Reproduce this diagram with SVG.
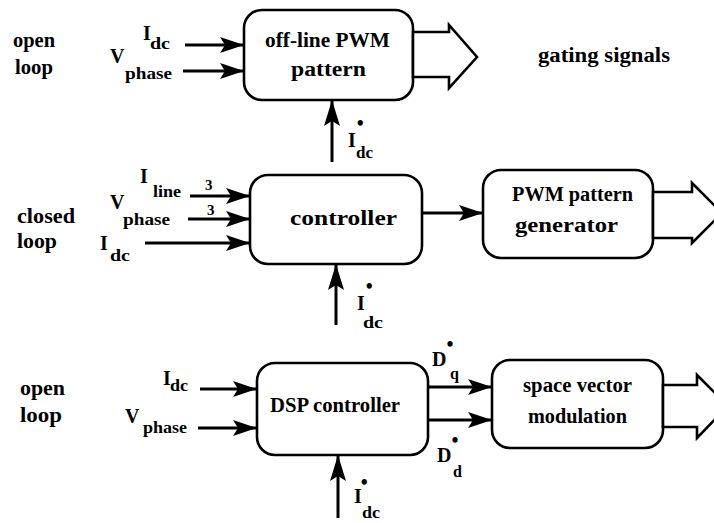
<svg xmlns="http://www.w3.org/2000/svg" width="714" height="523" viewBox="0 0 714 523" font-family="'Liberation Serif', 'Times New Roman', Times, serif">
<style>
text{fill:#000;font-size:20px;font-weight:bold}
.sub{font-size:16px}
.sm{font-size:15px}
.box{fill:#fff;stroke:#000;stroke-width:2.6}
.ln{stroke:#000;stroke-width:3;fill:none;marker-end:url(#ah)}
.up{stroke:#000;stroke-width:3;fill:none;marker-end:url(#ahu)}
.hol{fill:#fff;stroke:#000;stroke-width:2.6;stroke-linejoin:miter}
</style>
<defs>
<marker id="ah" markerUnits="userSpaceOnUse" markerWidth="26" markerHeight="18" refX="24" refY="8" orient="auto" viewBox="0 0 26 18">
<path d="M0,0 L24,8 L0,16 L5,8 z" fill="#000"/>
</marker>
<marker id="ahu" markerUnits="userSpaceOnUse" markerWidth="28" markerHeight="18" refX="26" refY="8" orient="auto" viewBox="0 0 28 18">
<path d="M0,0 L26,8 L0,16 L5,8 z" fill="#000"/>
</marker>
</defs>

<g id="labels">
<text x="13" y="47" textLength="42" lengthAdjust="spacingAndGlyphs">open</text>
<text x="15" y="74" textLength="38" lengthAdjust="spacingAndGlyphs">loop</text>
<text x="17" y="223" textLength="58" lengthAdjust="spacingAndGlyphs">closed</text>
<text x="17" y="248" textLength="40" lengthAdjust="spacingAndGlyphs">loop</text>
<text x="20" y="395" textLength="45" lengthAdjust="spacingAndGlyphs">open</text>
<text x="20" y="422" textLength="42" lengthAdjust="spacingAndGlyphs">loop</text>
<text x="538" y="62" textLength="132" lengthAdjust="spacingAndGlyphs">gating signals</text>
</g>

<g id="n1">
<rect class="box" x="244" y="10" width="169" height="90" rx="18"/>
<text x="265" y="47" textLength="125" lengthAdjust="spacingAndGlyphs">off-line PWM</text>
<text x="291" y="76" textLength="75" lengthAdjust="spacingAndGlyphs">pattern</text>
</g>
<g id="n2">
<rect class="box" x="250" y="175" width="172" height="89" rx="18"/>
<text x="290" y="225" textLength="107" lengthAdjust="spacingAndGlyphs">controller</text>
</g>
<g id="n3">
<rect class="box" x="483" y="170" width="170" height="88" rx="18"/>
<text x="512" y="201" textLength="121" lengthAdjust="spacingAndGlyphs">PWM pattern</text>
<text x="515" y="232" textLength="103" lengthAdjust="spacingAndGlyphs">generator</text>
</g>
<g id="n4">
<rect class="box" x="257" y="363" width="171" height="92" rx="18"/>
<text x="270" y="412" textLength="130" lengthAdjust="spacingAndGlyphs">DSP controller</text>
</g>
<g id="n5">
<rect class="box" x="492" y="360" width="171" height="88" rx="18"/>
<text x="523" y="392" textLength="109" lengthAdjust="spacingAndGlyphs">space vector</text>
<text x="528" y="423" textLength="99" lengthAdjust="spacingAndGlyphs">modulation</text>
</g>

<g id="connectors">
<line class="ln" x1="185" y1="45" x2="244" y2="45"/>
<line class="ln" x1="183" y1="71" x2="244" y2="71"/>
<line class="up" x1="332" y1="162" x2="332" y2="100"/>
<polygon class="hol" points="413,32 449,32 449,25 477,57 449,88 449,77 413,77"/>

<line class="ln" x1="190" y1="196" x2="250" y2="196"/>
<line class="ln" x1="188" y1="219" x2="250" y2="219"/>
<line class="ln" x1="145" y1="243" x2="250" y2="243"/>
<line class="up" x1="336" y1="325" x2="336" y2="264"/>
<line class="ln" x1="422" y1="213" x2="483" y2="213"/>
<polygon class="hol" points="653,192 692,192 692,183 722,213 692,243 692,238 653,238"/>

<line class="ln" x1="200" y1="389" x2="257" y2="389"/>
<line class="ln" x1="198" y1="428" x2="257" y2="428"/>
<line class="up" x1="338" y1="518" x2="338" y2="455"/>
<line class="ln" x1="428" y1="387" x2="492" y2="387"/>
<line class="ln" x1="428" y1="420" x2="492" y2="420"/>
<polygon class="hol" points="663,385 697,385 697,375 728,406 697,438 697,427 663,427"/>
</g>

<g id="signal-labels">
<text x="143" y="40">I</text><text class="sub" x="150" y="49" textLength="20" lengthAdjust="spacingAndGlyphs">dc</text>
<text x="110" y="63">V</text><text class="sub" x="125" y="79" textLength="47" lengthAdjust="spacingAndGlyphs">phase</text>
<text x="348" y="147">I<tspan dx="1" dy="-17">•</tspan></text><text class="sub" x="356" y="158" textLength="17" lengthAdjust="spacingAndGlyphs">dc</text>

<text x="140" y="183">I</text><text class="sub" x="153" y="197" textLength="28" lengthAdjust="spacingAndGlyphs">line</text>
<text class="sm" x="205" y="190">3</text>
<text class="sm" x="207" y="215">3</text>
<text x="110" y="209">V</text><text class="sub" x="123" y="225" textLength="47" lengthAdjust="spacingAndGlyphs">phase</text>
<text x="100" y="250">I</text><text class="sub" x="110" y="261" textLength="20" lengthAdjust="spacingAndGlyphs">dc</text>
<text x="357" y="310">I<tspan dx="1" dy="-17">•</tspan></text><text class="sub" x="363" y="328" textLength="20" lengthAdjust="spacingAndGlyphs">dc</text>

<text x="163" y="385">I</text><text class="sub" x="170" y="391" textLength="18" lengthAdjust="spacingAndGlyphs">dc</text>
<text x="125" y="423">V</text><text class="sub" x="143" y="433" textLength="44" lengthAdjust="spacingAndGlyphs">phase</text>
<text x="354" y="503">I<tspan dx="-1" dy="-14">•</tspan></text><text class="sub" x="362" y="518" textLength="18" lengthAdjust="spacingAndGlyphs">dc</text>
<text x="432" y="366">D<tspan dx="0" dy="-15">•</tspan></text><text class="sub" x="450" y="379">q</text>
<text x="437" y="462">D<tspan dx="0" dy="-15">•</tspan></text><text class="sub" x="453" y="477">d</text>
</g>
</svg>
